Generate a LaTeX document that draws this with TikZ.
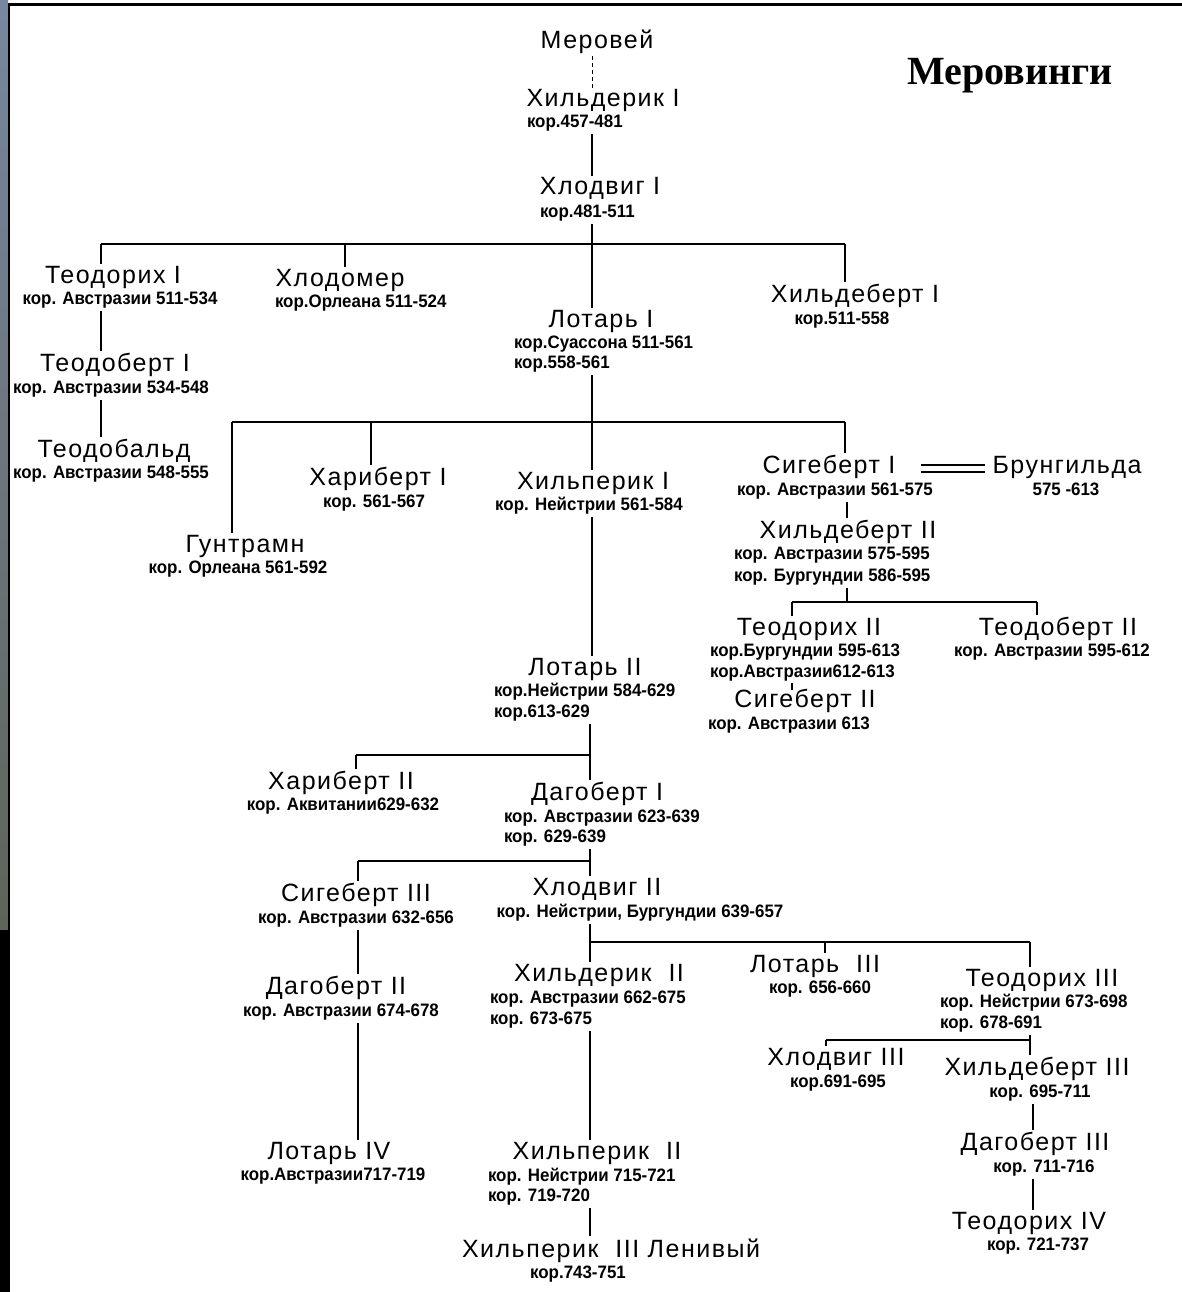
\documentclass[tikz,border=0pt]{standalone}
\usepackage{fontspec}
\setmainfont{Liberation Sans}
\newfontfamily\NmFam[LetterSpace=6]{Liberation Sans}
\newfontfamily\DtFam[FakeStretch=0.94]{Liberation Sans}
\newfontfamily\TtlFam{Liberation Serif}
\newcommand\NmF{\NmFam\fontsize{25}{27}\selectfont}
\newcommand\DtF{\DtFam\bfseries\fontsize{18}{20}\selectfont}
\newcommand\TtlF{\TtlFam\bfseries\fontsize{40}{44}\selectfont}
\begin{document}
\begin{tikzpicture}[x=1pt,y=-1pt,
  nm/.style={font=\NmF, inner sep=0pt, outer xsep=0pt, outer ysep=2pt, anchor=base, yshift=-9pt},
  dt/.style={font=\DtF, inner sep=0pt, outer xsep=0pt, outer ysep=3pt, anchor=base, yshift=-6.5pt},
  dtw/.style={dt, anchor=base west},
  ln/.style={line width=1.5pt},
  dashln/.style={line width=1pt, dash pattern=on 4pt off 3pt}
]
\useasboundingbox (0,0) rectangle (1182,1292);
\fill[white] (0,0) rectangle (1182,1292);
% left strip and frame
\shade[top color={rgb,255:red,120;green,135;blue,160}, bottom color={rgb,255:red,95;green,100;blue,90}] (0,0) rectangle (8,930);
\fill[black] (0,930) rectangle (8,1292);
\draw[line width=3pt] (8,5) -- (1182,5);
\draw[line width=2pt] (9,4) -- (9,1292);

% title
\node[font=\TtlF, inner sep=0pt] (title) at (1010,76) {Меровинги};

% ---- names and dates ----
\node[nm] (mer) at (597,40) {Меровей};
\node[nm] (hild1) at (603,98) {Хильдерик I};
\node[dtw] (hild1d) at (527,121) {кор.457-481};
\node[nm] (hlod1) at (600,186) {Хлодвиг I};
\node[dtw] (hlod1d) at (540,211) {кор.481-511};

\node[nm] (teod1) at (113,274) {Теодорих I};
\node[dt] (teod1d) at (120,298) {кор. Австразии 511-534};
\node[nm] (teob1) at (115,362) {Теодоберт I};
\node[dt] (teob1d) at (111,387) {кор. Австразии 534-548};
\node[nm] (teobald) at (114,448) {Теодобальд};
\node[dt] (teobaldd) at (111,472) {кор. Австразии 548-555};

\node[nm] (hlodomer) at (340,277) {Хлодомер};
\node[dtw] (hlodomerd) at (275,301) {кор.Орлеана 511-524};

\node[nm] (lot1) at (601,318) {Лотарь I};
\node[dtw] (lot1d) at (514,342) {кор.Суассона 511-561};
\node[dtw] (lot1e) at (514,362) {кор.558-561};

\node[nm] (hildb1) at (855,293) {Хильдеберт I};
\node[dt] (hildb1d) at (842,318) {кор.511-558};

\node[nm] (guntr) at (245,543) {Гунтрамн};
\node[dt] (guntrd) at (238,567) {кор. Орлеана 561-592};
\node[nm] (har1) at (378,476) {Хариберт I};
\node[dt] (har1d) at (374,501) {кор. 561-567};
\node[nm] (hilp1) at (593,480) {Хильперик I};
\node[dt] (hilp1d) at (589,504) {кор. Нейстрии 561-584};
\node[nm] (sig1) at (829,464) {Сигеберт I};
\node[dt] (sig1d) at (835,489) {кор. Австразии 561-575};
\node[nm] (brun) at (1067,464) {Брунгильда};
\node[dt] (brund) at (1066,489) {575 -613};

\node[nm] (hildb2) at (848,529) {Хильдеберт II};
\node[dtw] (hildb2d) at (734,553) {кор. Австразии 575-595};
\node[dtw] (hildb2e) at (734,575) {кор. Бургундии 586-595};

\node[nm] (teod2) at (809,626) {Теодорих II};
\node[dtw] (teod2d) at (710,650) {кор.Бургундии 595-613};
\node[dtw] (teod2e) at (710,671) {кор.Австразии612-613};
\node[nm] (sig2) at (805,698) {Сигеберт II};
\node[dtw] (sig2d) at (708,723) {кор. Австразии 613};
\node[nm] (teob2) at (1058,626) {Теодоберт II};
\node[dt] (teob2d) at (1052,650) {кор. Австразии 595-612};

\node[nm] (lot2) at (585,666) {Лотарь II};
\node[dtw] (lot2d) at (494,690) {кор.Нейстрии 584-629};
\node[dtw] (lot2e) at (494,711) {кор.613-629};

\node[nm] (har2) at (341,780) {Хариберт II};
\node[dt] (har2d) at (343,804) {кор. Аквитании629-632};
\node[nm] (dag1) at (597,791) {Дагоберт I};
\node[dtw] (dag1d) at (504,816) {кор. Австразии 623-639};
\node[dtw] (dag1e) at (504,836) {кор. 629-639};

\node[nm] (sig3) at (356,892) {Сигеберт III};
\node[dt] (sig3d) at (356,917) {кор. Австразии 632-656};
\node[nm] (hlod2) at (597,886) {Хлодвиг II};
\node[dt] (hlod2d) at (640,911) {кор. Нейстрии, Бургундии 639-657};

\node[nm] (dag2) at (336,985) {Дагоберт II};
\node[dt] (dag2d) at (341,1010) {кор. Австразии 674-678};
\node[nm] (lot4) at (329,1150) {Лотарь IV};
\node[dt] (lot4d) at (333,1174) {кор.Австразии717-719};

\node[nm] (hildr2) at (599,972) {Хильдерик\ \ II};
\node[dtw] (hildr2d) at (490,997) {кор. Австразии 662-675};
\node[dtw] (hildr2e) at (490,1018) {кор. 673-675};
\node[nm] (hilp2) at (597,1150) {Хильперик\ \ II};
\node[dtw] (hilp2d) at (488,1175) {кор. Нейстрии 715-721};
\node[dtw] (hilp2e) at (488,1195) {кор. 719-720};
\node[nm] (hilp3) at (611,1248) {Хильперик\ \ III Ленивый};
\node[dt] (hilp3d) at (578,1272) {кор.743-751};

\node[nm] (lot3) at (815,963) {Лотарь\ \ III};
\node[dt] (lot3d) at (820,987) {кор. 656-660};
\node[nm] (teod3) at (1042,977) {Теодорих III};
\node[dtw] (teod3d) at (940,1001) {кор. Нейстрии 673-698};
\node[dtw] (teod3e) at (940,1022) {кор. 678-691};
\node[nm] (hlod3) at (836,1056) {Хлодвиг III};
\node[dt] (hlod3d) at (838,1081) {кор.691-695};
\node[nm] (hildb3) at (1037,1066) {Хильдеберт III};
\node[dt] (hildb3d) at (1040,1091) {кор. 695-711};
\node[nm] (dag3) at (1035,1141) {Дагоберт III};
\node[dt] (dag3d) at (1044,1166) {кор. 711-716};
\node[nm] (teod4) at (1029,1220) {Теодорих IV};
\node[dt] (teod4d) at (1038,1244) {кор. 721-737};

% ---- junction coordinates ----
\coordinate (c1) at (592,0);
\coordinate (b1a) at (101,244);
\coordinate (b1b) at (845,244);
\coordinate (k1) at (345,244);
\coordinate (j1) at (592,244);
\coordinate (b2a) at (232,422);
\coordinate (b2b) at (845,422);
\coordinate (k2) at (371,422);
\coordinate (c2) at (847,0);
\coordinate (b3a) at (792,602);
\coordinate (b3b) at (1037,602);
\coordinate (j4) at (847,602);
\coordinate (t1) at (792,683);
\coordinate (t2) at (792,690);
\coordinate (b4a) at (356,755);
\coordinate (j5) at (590,755);
\coordinate (b5a) at (358,861);
\coordinate (j6) at (590,861);
\coordinate (j7) at (590,942);
\coordinate (k6) at (825,942);
\coordinate (b6b) at (1030,942);
\coordinate (b7a) at (826,1040);
\coordinate (b7b) at (1030,1040);
\coordinate (c3) at (1033,0);
\coordinate (m1) at (921,465);
\coordinate (m2) at (985,465);
\coordinate (m3) at (921,472);
\coordinate (m4) at (985,472);

% ---- connectors ----
\draw[dashln] (mer.south -| c1) -- (hild1.north -| c1);
\draw[ln] (hild1d.south -| c1) -- (hlod1.north -| c1);
\draw[ln] (hlod1d.south -| c1) -- (lot1.north -| c1);
\draw[ln] (b1a) -- (b1b);
\draw[ln] (b1a) -- (teod1.north -| b1a);
\draw[ln] (k1) -- (hlodomer.north -| k1);
\draw[ln] (b1b) -- (hildb1.north -| b1b);
\draw[ln] (teod1d.south -| b1a) -- (teob1.north -| b1a);
\draw[ln] (teob1d.south -| b1a) -- (teobald.north -| b1a);

\draw[ln] (lot1e.south -| c1) -- (hilp1.north -| c1);
\draw[ln] (b2a) -- (b2b);
\draw[ln] (b2a) -- (guntr.north -| b2a);
\draw[ln] (k2) -- (har1.north -| k2);
\draw[ln] (b2b) -- (sig1.north -| b2b);
\draw[ln] (hilp1d.south -| c1) -- (lot2.north -| c1);

\draw[ln] (m1) -- (m2);
\draw[ln] (m3) -- (m4);

\draw[ln] (sig1d.south -| c2) -- (hildb2.north -| c2);
\draw[ln] (hildb2e.south -| j4) -- (j4);
\draw[ln] (b3a) -- (b3b);
\draw[ln] (b3a) -- (teod2.north -| b3a);
\draw[ln] (b3b) -- (teob2.north -| b3b);
\draw[ln] (t1) -- (t2);

\draw[ln] (lot2e.south -| j5) -- (dag1.north -| j5);
\draw[ln] (b4a) -- (j5);
\draw[ln] (b4a) -- (har2.north -| b4a);
\draw[ln] (dag1e.south -| j6) -- (hlod2.north -| j6);
\draw[ln] (b5a) -- (j6);
\draw[ln] (b5a) -- (sig3.north -| b5a);
\draw[ln] (sig3d.south -| b5a) -- (dag2.north -| b5a);
\draw[ln] (dag2d.south -| b5a) -- (lot4.north -| b5a);

\draw[ln] (hlod2d.south -| j7) -- (hildr2.north -| j7);
\draw[ln] (j7) -- (b6b);
\draw[ln] (k6) -- (lot3.north -| k6);
\draw[ln] (b6b) -- (teod3.north -| b6b);
\draw[ln] (hildr2e.south -| j7) -- (hilp2.north -| j7);
\draw[ln] (hilp2e.south -| j7) -- (hilp3.north -| j7);

\draw[ln] (teod3e.south -| b7b) -- (hildb3.north -| b7b);
\draw[ln] (b7a) -- (b7b);
\draw[ln] (b7a) -- (hlod3.north -| b7a);
\draw[ln] (hildb3d.south -| c3) -- (dag3.north -| c3);
\draw[ln] (dag3d.south -| c3) -- (teod4.north -| c3);
\end{tikzpicture}
\end{document}
